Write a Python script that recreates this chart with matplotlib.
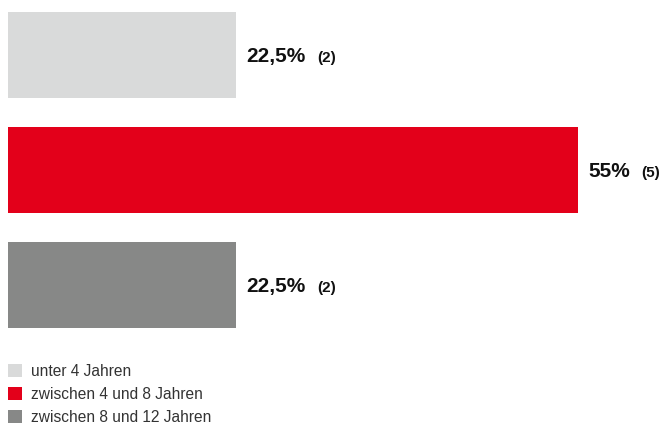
import matplotlib
matplotlib.use('Agg')
import matplotlib.pyplot as plt
from matplotlib.patches import Patch

categories = ['unter 4 Jahren', 'zwischen 4 und 8 Jahren', 'zwischen 8 und 12 Jahren']
counts = [2, 5, 2]
percent_labels = ['22,5%', '55%', '22,5%']
colors = ['#d9dada', '#e3001a', '#878887']

W, H = 667, 426
fig = plt.figure(figsize=(W / 100, H / 100), dpi=100)
plt.rcParams['font.family'] = ['Liberation Sans', 'DejaVu Sans']

# axes spans the full height; x starts at the bar's left edge
ax = fig.add_axes([8 / W, 0, (W - 8) / W, 1])
ax.set_xlim(0, 5 * (W - 8) / 570)
ax.set_ylim((H - 55) / 115, -55 / 115)
ax.axis('off')

y = list(range(len(categories)))
ax.barh(y, counts, height=86 / 115, color=colors)

fig.canvas.draw()
renderer = fig.canvas.get_renderer()
for yi, c, pct, n in zip(y, counts, percent_labels, counts):
    t = ax.annotate(pct, (c, yi), xytext=(7.2, -5.2), textcoords='offset points',
                    ha='left', va='baseline', fontsize=15, fontweight='bold',
                    color='#111111')
    bb = t.get_window_extent(renderer)
    ax.annotate(f'({n})', (c, yi), xytext=(7.2 + bb.width * 0.72 + 8.5, -5.2),
                textcoords='offset points', ha='left', va='baseline',
                fontsize=11, fontweight='bold', color='#111111')

handles = [Patch(facecolor=col, edgecolor='none') for col in colors]
fig.legend(handles, categories, loc='upper left',
           bbox_to_anchor=(8 / W, 1 - 364 / H), frameon=False,
           fontsize=11.2, handlelength=0.9, handleheight=0.9,
           handletextpad=0.6, labelspacing=0.52, borderpad=0, borderaxespad=0,
           labelcolor='#333333')

fig.savefig('out.png', dpi=100)
